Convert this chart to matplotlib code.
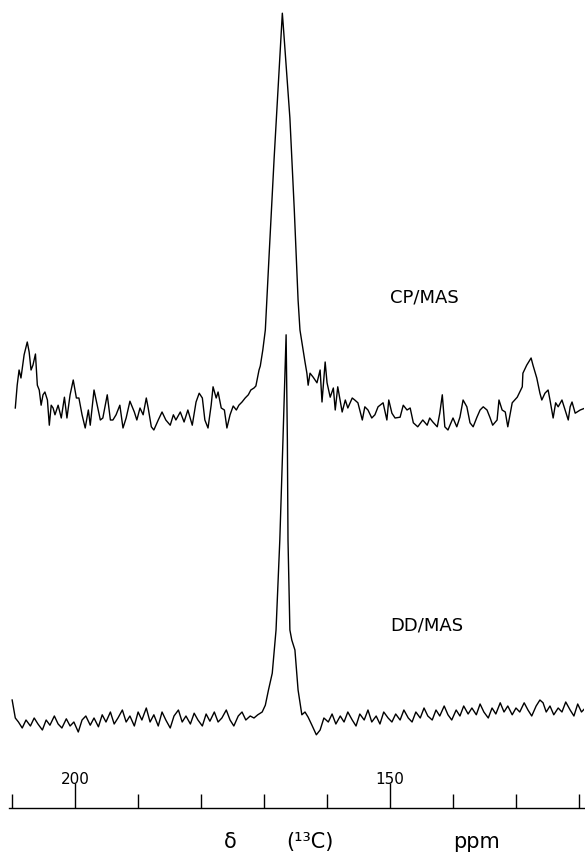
import numpy as np
import matplotlib
matplotlib.use("Agg")
import matplotlib.pyplot as plt

# =====================
# 1. Data
# =====================
# CP/MAS spectrum: chemical shift (ppm) and intensity (arbitrary units)
cp_ppm = [209.5, 209.2, 208.9, 208.6, 208.1, 207.6, 207.3, 207.0, 206.7, 206.3,
          206.0, 205.7, 205.4, 205.1, 204.8, 204.4, 204.1, 203.8, 203.5, 203.2,
          202.7, 202.2, 201.7, 201.3, 200.8, 200.3, 199.8, 199.4, 198.9, 198.4,
          197.9, 197.6, 197.0, 196.5, 196.0, 195.6, 194.9, 194.4, 194.0, 193.5,
          192.9, 192.4, 191.9, 191.3, 190.6, 190.2, 189.7, 189.2, 188.7, 188.4,
          187.9, 187.5, 186.8, 186.2, 185.6, 184.9, 184.4, 184.0, 183.3, 182.7,
          182.1, 181.4, 180.8, 180.3, 179.8, 179.4, 178.9, 178.4, 178.1, 177.6,
          177.3, 176.8, 176.3, 175.9, 175.4, 174.9, 174.4, 174.0, 173.5, 173.0,
          172.5, 172.1, 171.6, 171.3, 170.8, 170.6, 170.2, 169.8, 169.2, 168.4,
          167.6, 167.1, 166.9, 165.9, 165.2, 164.6, 164.3, 163.8, 163.5, 163.2,
          163.0, 162.7, 162.2, 161.6, 161.1, 160.8, 160.3, 160.0, 159.5, 159.0,
          158.7, 158.3, 157.6, 157.1, 156.7, 156.0, 155.6, 155.1, 154.4, 154.0,
          153.5, 152.9, 152.4, 151.9, 151.1, 150.5, 150.2, 149.7, 149.2, 148.4,
          147.9, 147.3, 146.8, 146.3, 145.6, 144.8, 144.1, 143.7, 143.2, 142.5,
          142.1, 141.7, 141.3, 140.8, 140.0, 139.4, 138.9, 138.4, 137.8, 137.3,
          136.8, 136.2, 135.7, 135.2, 134.6, 134.1, 133.7, 133.0, 132.7, 132.2,
          131.7, 131.3, 130.6, 129.8, 129.4, 129.0, 128.9, 128.3, 127.6, 127.3,
          126.7, 126.2, 125.9, 125.4, 124.9, 124.6, 124.1, 123.7, 123.3, 122.7,
          122.2, 121.7, 121.4, 121.1, 120.6, 119.8, 119.0]
cp_int = [0.5, 6.2, 10.0, 8.0, 13.8, 17.0, 14.5, 10.0, 11.2, 14.0,
          6.2, 5.0, 1.2, 3.8, 4.5, 2.5, -3.8, 1.2, 0.5, -1.2,
          1.2, -2.0, 3.2, -2.0, 3.8, 7.5, 3.0, 3.0, -1.2, -4.5,
          0.0, -3.8, 5.0, 1.2, -2.5, -2.0, 3.8, -2.5, -2.5, -1.2,
          1.2, -4.5, -2.0, 2.2, -0.5, -2.5, 0.5, -1.2, 3.0, 0.5,
          -4.2, -5.0, -2.5, -0.5, -2.5, -3.8, -1.2, -2.5, -0.5, -3.0,
          0.0, -3.8, 2.0, 4.2, 3.0, -2.5, -4.5, 1.2, 5.8, 3.0,
          4.5, 0.5, 0.0, -4.5, -1.2, 1.0, 0.0, 1.2, 2.0, 3.0,
          3.8, 5.0, 5.5, 6.0, 10.0, 11.0, 15.0, 20.0, 38.7, 63.0,
          85.0, 99.2, 95.0, 73.0, 50.0, 27.5, 20.0, 15.0, 12.0, 9.2,
          6.2, 9.2, 8.2, 6.8, 10.0, 2.0, 12.0, 6.8, 3.2, 5.5,
          0.0, 5.8, -0.5, 2.5, 0.5, 3.0, 2.5, 1.8, -2.5, 0.8,
          0.0, -2.0, -1.2, 0.8, 1.8, -2.5, 2.5, -0.8, -2.0, -1.8,
          1.2, 0.0, 0.5, -3.2, -4.2, -2.5, -3.8, -2.0, -3.0, -4.2,
          -0.8, 3.8, -4.2, -5.0, -2.0, -4.2, -1.8, 2.5, 0.8, -3.2,
          -4.2, -1.8, 0.0, 0.8, 0.0, -2.0, -3.8, -2.5, 2.5, 0.0,
          -0.5, -4.2, 1.8, 3.2, 4.5, 5.8, 9.2, 11.2, 13.0, 11.2,
          8.0, 4.2, 2.5, 4.2, 5.0, 2.5, -2.0, 1.8, 0.8, 2.5,
          0.0, -2.5, 0.8, 2.0, -0.8, 0.0, 0.5]

# DD/MAS spectrum
dd_ppm = [210.0, 209.5, 209.0, 208.4, 207.8, 207.1, 206.5, 205.9, 205.2, 204.6,
          204.0, 203.3, 202.7, 202.1, 201.4, 200.8, 200.2, 199.5, 198.9, 198.3,
          197.6, 197.0, 196.3, 195.7, 195.1, 194.4, 193.8, 193.2, 192.5, 191.9,
          191.3, 190.6, 190.0, 189.4, 188.7, 188.1, 187.5, 186.8, 186.2, 185.6,
          184.9, 184.3, 183.6, 183.0, 182.4, 181.7, 181.1, 180.5, 179.8, 179.2,
          178.6, 177.9, 177.3, 176.7, 176.0, 175.4, 174.8, 174.1, 173.5, 172.9,
          172.2, 171.6, 171.0, 170.3, 169.8, 169.3, 168.7, 168.1, 167.5, 167.0,
          166.5, 166.3, 166.2, 165.9, 165.6, 165.1, 164.6, 164.0, 163.5, 163.0,
          162.4, 161.7, 161.1, 160.5, 159.8, 159.2, 158.6, 157.9, 157.3, 156.7,
          156.0, 155.4, 154.8, 154.1, 153.5, 152.9, 152.2, 151.6, 151.0, 150.3,
          149.7, 149.1, 148.4, 147.8, 147.1, 146.5, 145.9, 145.2, 144.6, 144.0,
          143.3, 142.7, 142.1, 141.4, 140.8, 140.2, 139.5, 138.9, 138.3, 137.6,
          137.0, 136.3, 135.7, 135.1, 134.4, 133.8, 133.2, 132.5, 131.9, 131.3,
          130.6, 130.0, 129.4, 128.7, 128.1, 127.5, 126.8, 126.2, 125.7, 125.2,
          124.6, 124.0, 123.3, 122.7, 122.1, 121.4, 120.8, 120.2, 119.6, 119.0]
dd_int = [4.5, 0.0, -1.0, -2.5, -0.5, -2.0, 0.0, -1.5, -3.0, -0.5,
          -1.8, 0.5, -1.5, -2.5, -0.2, -2.0, -1.0, -3.5, -0.5, 0.5,
          -1.8, 0.0, -2.2, 0.8, -1.0, 1.5, -1.5, 0.0, 2.0, -1.0,
          0.5, -2.0, 1.5, -0.5, 2.5, -1.0, 0.8, -2.0, 1.5, -0.5,
          -2.5, 0.5, 2.0, -1.0, 0.5, -1.5, 1.2, -0.5, -2.0, 1.0,
          -0.8, 1.5, -1.0, 0.0, 2.0, -0.5, -2.0, 0.5, 1.5, -0.5,
          0.5, 0.0, 0.8, 1.5, 3.2, 7.0, 11.2, 22.0, 44.5, 69.5,
          95.8, 69.5, 44.5, 22.0, 19.5, 17.0, 7.0, 0.8, 1.5, 0.2,
          -1.8, -4.2, -3.0, 0.0, -1.0, 1.0, -1.5, 0.5, -1.0, 1.5,
          -0.5, -2.0, 1.0, -0.5, 2.0, -1.0, 0.5, -1.5, 1.5, 0.0,
          -1.0, 1.0, -0.5, 2.0, 0.0, -1.0, 1.5, 0.0, 2.5, 0.5,
          -0.5, 2.0, 0.5, 3.0, 0.8, -0.5, 2.0, 0.5, 3.0, 1.0,
          2.5, 0.8, 3.5, 1.5, 0.0, 2.5, 1.0, 3.8, 1.5, 3.0,
          0.8, 2.5, 1.5, 3.8, 2.0, 0.5, 3.0, 4.5, 3.8, 1.5,
          3.0, 0.8, 2.5, 1.5, 4.0, 2.0, 0.5, 3.5, 1.5, 2.5]

cp_offset = 77  # vertical shift of the CP/MAS trace
tick_pos = [210, 200, 190, 180, 170, 160, 150, 140, 130, 120]
tick_labels = ["200", "150"]

# =====================
# 2. Figure
# =====================
fig = plt.figure(figsize=(5.85, 8.61), dpi=100)
ax = fig.add_axes([9 / 585, 53 / 861, 575 / 585, 808 / 861])

ax.plot(cp_ppm, np.array(cp_int) + cp_offset, color="black", lw=1.0)
ax.plot(dd_ppm, dd_int, color="black", lw=1.0)

ax.text(150.0, 105, "CP/MAS", fontsize=13, ha="left", va="center")
ax.text(150.0, 23, "DD/MAS", fontsize=13, ha="left", va="center")

ax.set_xlim(210.5, 119.2)
ax.set_ylim(-22.5, 179.5)

# =====================
# 3. Axis: line at the bottom, ticks and labels above it
# =====================
for side in ["left", "right", "top"]:
    ax.spines[side].set_visible(False)
ax.spines["bottom"].set_linewidth(1.0)
ax.set_yticks([])

ax.set_xticks([200, 150])
ax.set_xticklabels(tick_labels)
ax.set_xticks([t for t in tick_pos if t not in (200, 150)], minor=True)
ax.tick_params(axis="x", which="major", direction="in", length=18, width=1.0,
               pad=-26, labelsize=11)
ax.tick_params(axis="x", which="minor", direction="in", length=10, width=1.0)

# axis title, spread out as in the original
fig.text(224 / 585, 1 - 842 / 861, "δ", fontsize=15, ha="left", va="center")
fig.text(286 / 585, 1 - 842 / 861, "(¹³C)", fontsize=15, ha="left", va="center")
fig.text(453 / 585, 1 - 842 / 861, "ppm", fontsize=15, ha="left", va="center")

fig.savefig("out.png", dpi=100)
